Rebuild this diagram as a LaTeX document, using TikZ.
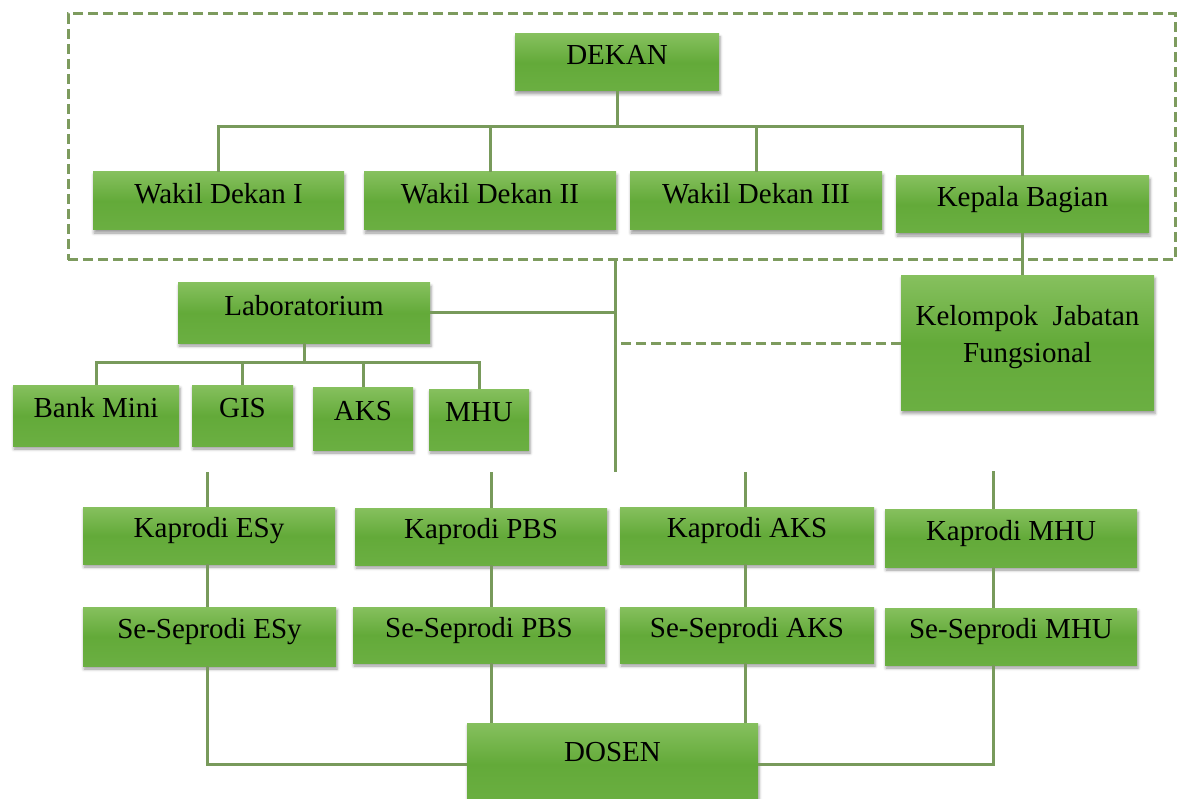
\documentclass[tikz,border=0pt]{standalone}
\usepackage{fontspec}
\setmainfont{Liberation Serif}
\usetikzlibrary{shadows.blur}
\definecolor{gtop}{HTML}{86C05E}
\definecolor{gmid}{HTML}{63AA39}
\definecolor{gbot}{HTML}{6BAF42}
\definecolor{linec}{HTML}{789A5B}
\definecolor{dashc}{HTML}{7D9B5E}
\begin{document}
\begin{tikzpicture}[x=1pt,y=-1pt,
  box/.style={inner sep=0pt, top color=gtop, bottom color=gbot, middle color=gmid,
    text=black, font=\fontsize{29}{37}\selectfont, text height=0.7em, text depth=0.25em,
    blur shadow={shadow xshift=1pt, shadow yshift=-3pt, shadow blur radius=3pt, shadow opacity=40}},
  txt/.style={inner sep=0pt, text=black, font=\fontsize{29}{37}\selectfont, align=center},
  conn/.style={draw=linec, line width=3pt},
  dconn/.style={draw=dashc, line width=3pt, dash pattern=on 10pt off 5pt},
  grpbox/.style={draw=dashc, line width=3pt, dash pattern=on 10pt off 5pt, inner sep=0pt}]
\useasboundingbox (0,0) rectangle (1177,799);

% dashed group
\node[grpbox, minimum width=1107, minimum height=246] (grp) at (621.5,137) {};

% top level
\node[box, minimum width=204, minimum height=57] (dekan) at (617,62.5) {DEKAN};
\node[box, minimum width=251, minimum height=58] (w1) at (218.5,201) {Wakil Dekan I};
\node[box, minimum width=252, minimum height=58] (w2) at (490,201) {Wakil Dekan II};
\node[box, minimum width=252, minimum height=58] (w3) at (756,201) {Wakil Dekan III};
\node[box, minimum width=253, minimum height=57] (kb) at (1022.5,204.5) {Kepala Bagian};
\node[box, minimum width=253, minimum height=135] (kjf) at (1027.5,343) {};
\node[txt] (kjft) at (1027.5,337) {Kelompok\ \ Jabatan\\Fungsional};

% laboratorium
\node[box, minimum width=252, minimum height=60] (lab) at (304,313) {Laboratorium};
\node[box, minimum width=166, minimum height=61] (bm) at (96,415.5) {Bank Mini};
\node[box, minimum width=101, minimum height=61] (gis) at (242.5,415.5) {GIS};
\node[box, minimum width=100, minimum height=63] (aks) at (363,418.5) {AKS};
\node[box, minimum width=100, minimum height=61] (mhu) at (479,419.5) {MHU};

% kaprodi
\node[box, minimum width=252, minimum height=57] (kesy) at (209,535.5) {Kaprodi ESy};
\node[box, minimum width=252, minimum height=57] (kpbs) at (481,536.5) {Kaprodi PBS};
\node[box, minimum width=254, minimum height=57] (kaks) at (747,535.5) {Kaprodi AKS};
\node[box, minimum width=252, minimum height=58] (kmhu) at (1011,538) {Kaprodi MHU};

% se-seprodi
\node[box, minimum width=253, minimum height=59] (sesy) at (209.5,636.5) {Se-Seprodi ESy};
\node[box, minimum width=252, minimum height=56] (spbs) at (479,635) {Se-Seprodi PBS};
\node[box, minimum width=254, minimum height=56] (saks) at (747,635) {Se-Seprodi AKS};
\node[box, minimum width=252, minimum height=57] (smhu) at (1011,636.5) {Se-Seprodi MHU};

% dosen
\node[box, minimum width=291, minimum height=82, text depth=1.15em] (dosen) at (612.5,764) {DOSEN};

% coordinates
\coordinate (busA) at (0,127);
\coordinate (busB) at (0,362);
\coordinate (mbot) at (615,472);
\coordinate (s1) at (207,472);
\coordinate (s2) at (491,472);
\coordinate (s3) at (745,472);
\coordinate (s4) at (993,471);

% top connectors
\draw[conn] (dekan.south) -- (dekan.south |- busA);
\draw[conn] (w1.north) |- (kb.north |- busA) -- (kb.north);
\draw[conn] (w2.north) -- (w2.north |- busA);
\draw[conn] (w3.north) -- (w3.north |- busA);
\draw[conn] (kb.south) -- (kb.south |- kjf.north);

% main vertical
\draw[conn] (mbot |- grp.south) -- (mbot);
\draw[conn] (lab.east) -- (lab.east -| mbot);
\draw[dconn] (kjf.west) -- (kjf.west -| mbot);

% lab tree
\draw[conn] (lab.south) -- (lab.south |- busB);
\draw[conn] (bm.north) |- (mhu.north |- busB) -- (mhu.north);
\draw[conn] (gis.north) -- (gis.north |- busB);
\draw[conn] (aks.north) -- (aks.north |- busB);

% columns
\draw[conn] (s1) -- (s1 |- kesy.north);
\draw[conn] (s2) -- (s2 |- kpbs.north);
\draw[conn] (s3) -- (s3 |- kaks.north);
\draw[conn] (s4) -- (s4 |- kmhu.north);
\draw[conn] (s1 |- kesy.south) -- (s1 |- sesy.north);
\draw[conn] (s2 |- kpbs.south) -- (s2 |- spbs.north);
\draw[conn] (s3 |- kaks.south) -- (s3 |- saks.north);
\draw[conn] (s4 |- kmhu.south) -- (s4 |- smhu.north);
\draw[conn] (s1 |- sesy.south) |- (dosen.west);
\draw[conn] (s2 |- spbs.south) -- (s2 |- dosen.north);
\draw[conn] (s3 |- saks.south) -- (s3 |- dosen.north);
\draw[conn] (s4 |- smhu.south) |- (dosen.east);
\end{tikzpicture}
\end{document}
